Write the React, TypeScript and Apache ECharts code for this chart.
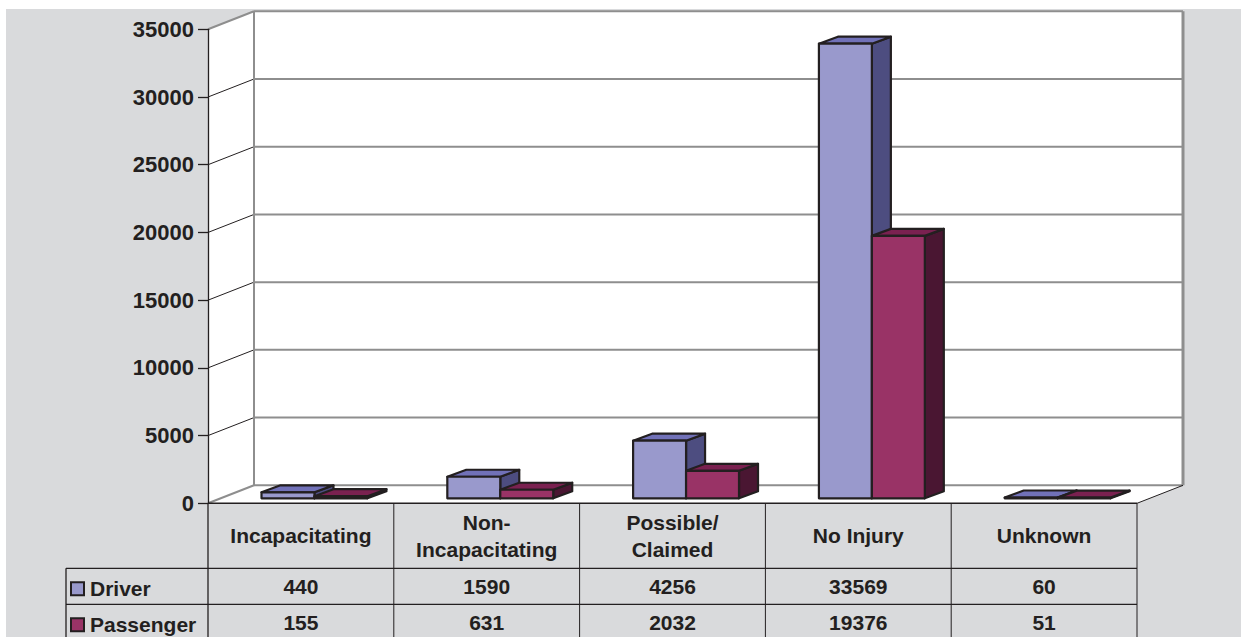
import React, { useEffect, useRef } from "react";
import * as echarts from "echarts";

// ---- data ----
const categories: string[] = [
  "Incapacitating",
  "Non-\nIncapacitating",
  "Possible/\nClaimed",
  "No Injury",
  "Unknown",
];
const seriesNames: string[] = ["Driver", "Passenger"];
const driver: number[] = [440, 1590, 4256, 33569, 60];
const passenger: number[] = [155, 631, 2032, 19376, 51];
const yMin = 0;
const yMax = 35000;
const yInterval = 5000;
const yTicks: number[] = [0, 5000, 10000, 15000, 20000, 25000, 30000, 35000];

// ---- style ----
const FONT = '"Liberation Sans", Arial, Helvetica, sans-serif';
const INK = "#231F20";
const BG = "#D9DADC";
const WALL_LINE = "#8E8E8E";
const COLORS = [
  { front: "#9999CC", top: "#7171B8", side: "#4D4D80" },
  { front: "#993366", top: "#7A2150", side: "#4A1632" },
];
const GRID = { left: 208, top: 29.3, width: 929, height: 474 };
const DEPTH = { dx: 46, dy: -18 };
const BAR = { dx: 19, dy: -7, lift: 5, widthFrac: 0.285, splitFrac: 0.073 };

function makeRender(which: number) {
  return (params: any, api: any) => {
    const i = api.value(0);
    const v = api.value(1);
    const base = api.coord([i, 0]);
    const top = api.coord([i, v]);
    const band = api.size([1, 0])[0];
    const w = band * BAR.widthFrac;
    const split = base[0] + band * BAR.splitFrac;
    const x0 = which === 0 ? split - w : split;
    const x1 = x0 + w;
    const yb = base[1] - BAR.lift;
    const yt = top[1] - BAR.lift;
    const c = COLORS[which];
    const stroke = { stroke: INK, lineWidth: 2.2, lineJoin: "round" };
    return {
      type: "group",
      children: [
        {
          type: "polygon",
          shape: {
            points: [
              [x1, yt],
              [x1 + BAR.dx, yt + BAR.dy],
              [x1 + BAR.dx, yb + BAR.dy],
              [x1, yb],
            ],
          },
          style: { fill: c.side, ...stroke },
        },
        {
          type: "polygon",
          shape: {
            points: [
              [x0, yt],
              [x0 + BAR.dx, yt + BAR.dy],
              [x1 + BAR.dx, yt + BAR.dy],
              [x1, yt],
            ],
          },
          style: { fill: c.top, ...stroke },
        },
        {
          type: "polygon",
          shape: {
            points: [
              [x0, yt],
              [x1, yt],
              [x1, yb],
              [x0, yb],
            ],
          },
          style: { fill: c.front, ...stroke },
        },
      ],
    };
  };
}

export default function App() {
  const ref = useRef<HTMLDivElement>(null);
  useEffect(() => {
    if (!ref.current) return;
    const chart = echarts.init(ref.current, null, { renderer: "svg" });
    const option: any = {
      animation: false,
      backgroundColor: BG,
      grid: { ...GRID },
      xAxis: {
        type: "category",
        data: categories,
        axisLine: { show: false },
        axisTick: { show: false },
        axisLabel: { show: false },
        splitLine: { show: false },
      },
      yAxis: {
        type: "value",
        min: yMin,
        max: yMax,
        interval: yInterval,
        z: 5,
        axisLine: { show: true, lineStyle: { color: INK, width: 1.3 } },
        axisTick: { show: true, length: 10, lineStyle: { color: INK, width: 1.3 } },
        axisLabel: {
          margin: 14,
          color: INK,
          fontFamily: FONT,
          fontWeight: "bold",
          fontSize: 22,
          formatter: (v: number) => String(v),
        },
        splitLine: { show: false },
      },
      series: [driver, passenger].map((arr, k) => ({
        type: "custom",
        name: seriesNames[k],
        z: 10,
        renderItem: makeRender(k),
        data: arr.map((v, i) => [i, v]),
      })),
    };
    chart.setOption(option);

    const yPix = (v: number) => chart.convertToPixel({ yAxisIndex: 0 }, v) as number;
    const xPix = (i: number) => chart.convertToPixel({ xAxisIndex: 0 }, categories[i]) as number;
    const band = xPix(1) - xPix(0);
    const left = xPix(0) - band / 2;
    const right = xPix(categories.length - 1) + band / 2;
    const y0 = yPix(yMin);
    const yT = yPix(yMax);
    const bl = left + DEPTH.dx;
    const br = right + DEPTH.dx;

    const els: any[] = [];
    // white page strips outside the grey panel
    els.push({ type: "rect", shape: { x: 0, y: 0, width: 1241, height: 9 }, style: { fill: "#fff" }, z: 0 });
    els.push({ type: "rect", shape: { x: 0, y: 0, width: 6, height: 637 }, style: { fill: "#fff" }, z: 0 });
    // back wall
    els.push({
      type: "rect",
      shape: { x: bl, y: yT + DEPTH.dy, width: br - bl, height: y0 - yT },
      style: { fill: "#fff" },
      z: 1,
    });
    // left wall
    els.push({
      type: "polygon",
      shape: { points: [[left, yT], [bl, yT + DEPTH.dy], [bl, y0 + DEPTH.dy], [left, y0]] },
      style: { fill: "#fff" },
      z: 1,
    });
    // floor
    els.push({
      type: "polygon",
      shape: { points: [[left, y0], [bl, y0 + DEPTH.dy], [br, y0 + DEPTH.dy], [right, y0]] },
      style: { fill: "#fff" },
      z: 1,
    });
    // gridlines and diagonals
    yTicks.forEach((v) => {
      const y = yPix(v);
      const edge = v === yMin || v === yMax;
      els.push({
        type: "line",
        shape: { x1: bl, y1: y + DEPTH.dy, x2: br, y2: y + DEPTH.dy },
        style: { stroke: WALL_LINE, lineWidth: 2 },
        z: 2,
      });
      els.push({
        type: "line",
        shape: { x1: left, y1: y, x2: bl, y2: y + DEPTH.dy },
        style: { stroke: edge ? WALL_LINE : INK, lineWidth: edge ? 2 : 1 },
        z: 2,
      });
    });
    // back wall side edges
    els.push({
      type: "line",
      shape: { x1: bl, y1: yT + DEPTH.dy, x2: bl, y2: y0 + DEPTH.dy },
      style: { stroke: WALL_LINE, lineWidth: 2 },
      z: 2,
    });
    els.push({
      type: "line",
      shape: { x1: br, y1: yT + DEPTH.dy, x2: br, y2: y0 + DEPTH.dy },
      style: { stroke: WALL_LINE, lineWidth: 3 },
      z: 2,
    });
    // floor right edge
    els.push({
      type: "line",
      shape: { x1: right, y1: y0, x2: br, y2: y0 + DEPTH.dy },
      style: { stroke: INK, lineWidth: 1 },
      z: 2,
    });

    // ---- data table ----
    const headH = 65;
    const rowH = 36;
    const r1 = y0 + headH;
    const r2 = r1 + rowH;
    const tableLeft = 66;
    const line = (x1: number, y1: number, x2: number, y2: number, w = 1.3) => ({
      type: "line",
      shape: { x1, y1, x2, y2 },
      style: { stroke: INK, lineWidth: w },
      z: 3,
    });
    els.push(line(left, y0, right, y0, 1.5));
    els.push(line(left, y0, left, 637));
    for (let i = 1; i <= categories.length; i++) {
      const x = left + band * i;
      els.push(line(x, y0, x, 637, 1));
    }
    els.push(line(tableLeft, r1, right, r1));
    els.push(line(tableLeft, r2, right, r2));
    els.push(line(tableLeft, r1, tableLeft, 637));

    const txt = (text: string, x: number, y: number, align = "center") => ({
      type: "text",
      x,
      y,
      z: 4,
      style: {
        text,
        fill: INK,
        fontFamily: FONT,
        fontWeight: "bold",
        fontSize: 21,
        lineHeight: 27,
        align,
        verticalAlign: "middle",
      },
    });
    categories.forEach((c, i) => {
      const cx = xPix(i);
      els.push(txt(c, cx, (y0 + r1) / 2));
      els.push(txt(String(driver[i]), cx, (r1 + r2) / 2 + 0.5));
      els.push(txt(String(passenger[i]), cx, r2 + rowH / 2 + 0.5));
    });
    [r1, r2].forEach((ry, k) => {
      els.push({
        type: "rect",
        shape: { x: 71, y: ry + 14, width: 13, height: 13 },
        style: { fill: COLORS[k].front, stroke: INK, lineWidth: 2 },
        z: 4,
      });
      els.push(txt(seriesNames[k], 90, ry + rowH / 2 + 2, "left"));
    });

    chart.setOption({ graphic: { elements: els } });
    return () => chart.dispose();
  }, []);
  return (
    <div
      ref={ref}
      style={{ position: "fixed", left: 0, top: 0, width: 1241, height: 637 }}
    />
  );
}
